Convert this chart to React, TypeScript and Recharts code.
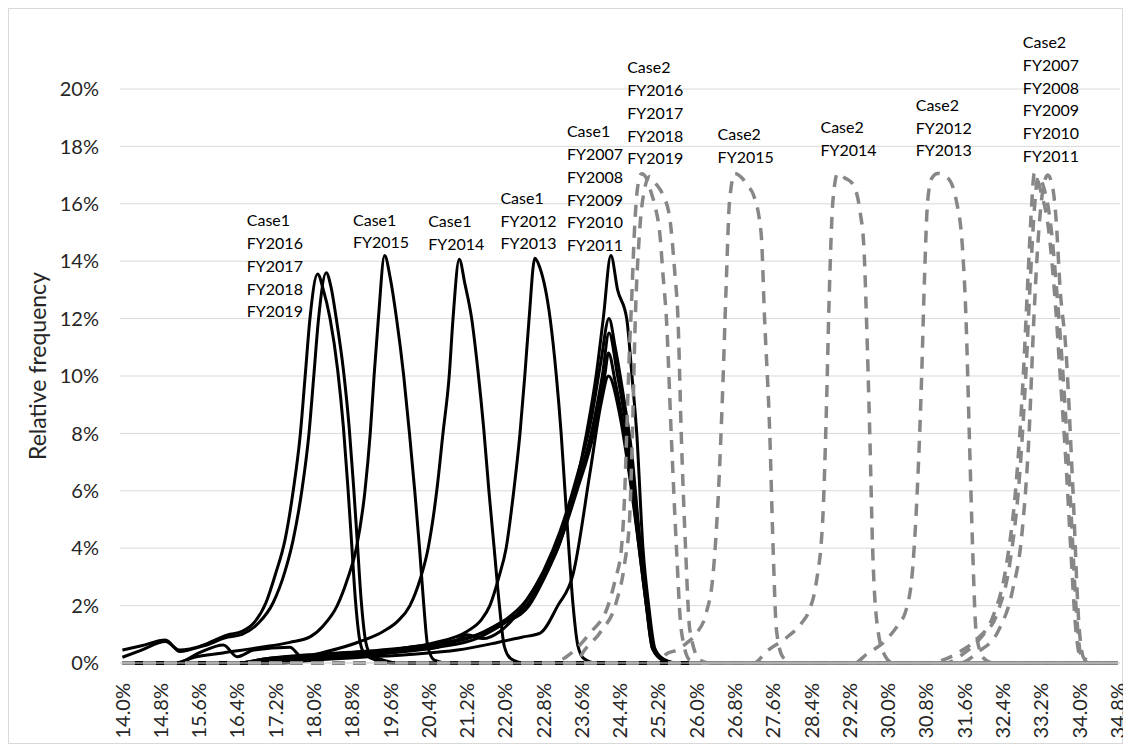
import React from "react";
import { LineChart, Line, XAxis, YAxis, CartesianGrid, ReferenceDot } from "recharts";

type Pt = [number, number];

const xTicks = [
  14.0, 14.8, 15.6, 16.4, 17.2, 18.0, 18.8, 19.6, 20.4, 21.2, 22.0, 22.8, 23.6, 24.4,
  25.2, 26.0, 26.8, 27.6, 28.4, 29.2, 30.0, 30.8, 31.6, 32.4, 33.2, 34.0, 34.8,
];
const yTicks = [0, 2, 4, 6, 8, 10, 12, 14, 16, 18, 20];

// Case1 (black solid), x = rate %, y = relative frequency %
const c1FY2016: Pt[] = [
  [14.0, 0.45], [14.4, 0.6], [14.9, 0.8], [15.2, 0.4], [15.7, 0.63], [16.2, 0.98],
  [16.5, 1.1], [16.75, 1.4], [17.0, 2.1], [17.2, 3.1], [17.4, 4.3], [17.57, 6.0],
  [17.72, 8.0], [17.82, 10.0], [17.92, 12.0], [18.08, 13.55], [18.2, 13.0], [18.34, 12.0],
  [18.5, 10.2], [18.62, 8.2], [18.71, 6.2], [18.79, 4.2], [18.87, 2.2], [18.95, 0.9],
  [19.05, 0.35], [19.3, 0.1], [19.6, 0], [26.0, 0],
];
const c1FY2018: Pt[] = [
  [14.0, 0.2], [14.4, 0.45], [14.9, 0.75], [15.2, 0.45], [15.7, 0.6], [16.2, 0.9],
  [16.5, 1.0], [16.85, 1.4], [17.15, 2.1], [17.4, 3.2], [17.57, 4.3], [17.75, 6.0],
  [17.9, 8.0], [18.0, 10.0], [18.1, 12.0], [18.26, 13.6], [18.36, 13.1], [18.47, 12.0],
  [18.62, 10.2], [18.74, 8.2], [18.83, 6.2], [18.91, 4.2], [18.99, 2.2], [19.07, 0.9],
  [19.17, 0.35], [19.45, 0.1], [19.8, 0], [26.0, 0],
];
const c1FY2015: Pt[] = [
  [14.0, 0], [15.1, 0], [15.5, 0.2], [16.1, 0.35], [16.9, 0.55], [17.5, 0.72],
  [17.93, 0.92], [18.2, 1.3], [18.49, 2.0], [18.7, 2.9], [18.89, 4.0], [19.07, 6.0],
  [19.18, 8.0], [19.26, 10.0], [19.35, 12.0], [19.48, 14.2], [19.6, 13.4], [19.73, 12.0],
  [19.88, 10.0], [20.0, 8.0], [20.11, 6.0], [20.21, 4.0], [20.3, 2.0], [20.38, 0.6],
  [20.52, 0.1], [20.8, 0], [26.0, 0],
];
const c1FY2014: Pt[] = [
  [14.0, 0], [15.15, 0], [15.6, 0.35], [16.11, 0.63], [16.4, 0.22], [16.74, 0.45],
  [17.5, 0.55], [17.75, 0.22], [18.27, 0.4], [18.97, 0.75], [19.45, 1.1], [19.75, 1.45],
  [20.01, 2.0], [20.22, 2.9], [20.39, 4.0], [20.57, 6.0], [20.7, 8.0], [20.83, 10.0],
  [20.91, 12.0], [21.04, 14.07], [21.16, 13.2], [21.3, 12.0], [21.43, 10.2], [21.55, 8.2],
  [21.66, 6.0], [21.77, 4.0], [21.88, 2.0], [21.98, 0.6], [22.12, 0.15], [22.4, 0], [26.0, 0],
];
const c1FY2012: Pt[] = [
  [14.0, 0], [16.4, 0], [17.0, 0.15], [18.0, 0.25], [19.0, 0.35], [19.8, 0.5],
  [20.5, 0.7], [21.2, 1.1], [21.5, 1.5], [21.68, 2.0], [21.87, 3.0], [22.02, 4.0],
  [22.18, 6.0], [22.31, 8.0], [22.41, 10.0], [22.5, 12.0], [22.62, 14.1], [22.72, 13.8],
  [22.94, 12.0], [23.07, 10.0], [23.17, 8.0], [23.25, 6.0], [23.33, 4.0], [23.42, 2.0],
  [23.52, 0.6], [23.65, 0.15], [23.9, 0], [26.0, 0],
];
const c1FY2007: Pt[] = [
  [14.0, 0], [16.4, 0], [17.0, 0.15], [18.0, 0.3], [19.0, 0.4], [20.0, 0.55],
  [21.0, 0.8], [21.6, 1.1], [22.0, 1.5], [22.4, 2.1], [22.75, 3.0], [23.1, 4.0],
  [23.45, 6.0], [23.7, 8.0], [23.9, 10.0], [24.05, 12.0], [24.21, 14.2], [24.35, 13.0],
  [24.54, 12.0], [24.65, 10.0], [24.75, 8.0], [24.88, 4.0], [25.0, 2.0], [25.13, 0.5],
  [25.3, 0.15], [25.6, 0], [26.0, 0],
];
const c1FY2008: Pt[] = [
  [14.0, 0], [16.6, 0], [17.2, 0.15], [18.2, 0.3], [19.2, 0.4], [20.43, 0.51],
  [20.99, 0.8], [21.2, 0.98], [21.54, 0.85], [21.89, 1.1], [22.38, 2.0], [22.8, 3.2],
  [23.15, 4.6], [23.5, 6.5], [23.8, 8.5], [24.0, 10.5], [24.17, 12.0], [24.3, 11.0],
  [24.5, 9.0], [24.64, 7.4], [24.83, 4.0], [25.0, 1.5], [25.1, 0.5], [25.3, 0.1],
  [25.6, 0], [26.0, 0],
];
const c1FY2009: Pt[] = [
  [14.0, 0], [16.8, 0], [17.5, 0.12], [18.5, 0.25], [19.5, 0.4], [20.5, 0.6],
  [21.3, 0.9], [21.9, 1.4], [22.45, 2.0], [22.75, 2.9], [23.05, 4.0], [23.45, 6.0],
  [23.8, 8.0], [24.03, 10.0], [24.17, 11.5], [24.35, 10.0], [24.55, 8.0], [24.7, 6.0],
  [24.83, 4.0], [24.97, 2.0], [25.1, 0.5], [25.3, 0.1], [25.6, 0], [26.0, 0],
];
const c1FY2010: Pt[] = [
  [14.0, 0], [17.0, 0], [17.6, 0.1], [18.6, 0.2], [19.6, 0.35], [20.6, 0.55],
  [21.4, 0.85], [22.0, 1.4], [22.5, 2.0], [22.8, 2.9], [23.1, 4.0], [23.5, 6.0],
  [23.85, 8.0], [24.08, 10.0], [24.16, 10.8], [24.3, 9.8], [24.5, 8.0], [24.66, 6.0],
  [24.8, 4.0], [24.95, 2.0], [25.08, 0.5], [25.3, 0.1], [25.6, 0], [26.0, 0],
];
const c1FY2011: Pt[] = [
  [14.0, 0], [17.3, 0], [18.0, 0.1], [19.0, 0.2], [20.0, 0.3], [21.0, 0.45],
  [21.8, 0.7], [22.35, 0.9], [22.73, 1.04], [23.1, 2.0], [23.42, 3.1], [23.77, 6.6],
  [24.0, 9.0], [24.16, 10.0], [24.4, 8.6], [24.6, 6.5], [24.8, 4.0], [24.95, 2.0],
  [25.08, 0.5], [25.3, 0.1], [25.6, 0], [26.0, 0],
];

// Case2 (grey dashed)
const c2FY2016: Pt[] = [
  [14.0, 0], [23.0, 0], [23.28, 0.22], [23.77, 1.04], [24.15, 2.0], [24.3, 2.9],
  [24.43, 4.0], [24.5, 6.0], [24.54, 8.0], [24.6, 11.0], [24.64, 12.5], [24.7, 15.0],
  [24.77, 16.6], [24.85, 17.05], [24.95, 16.9], [25.05, 16.4], [25.15, 15.8], [25.23, 15.0],
  [25.3, 13.5], [25.37, 12.0], [25.47, 8.0], [25.58, 4.0], [25.68, 1.15], [25.86, 0.1],
  [26.1, 0], [34.8, 0],
];
const c2FY2018: Pt[] = [
  [14.0, 0], [23.5, 0], [23.6, 0.3], [24.0, 1.1], [24.3, 2.0], [24.5, 3.5],
  [24.6, 5.0], [24.66, 8.0], [24.72, 12.0], [24.8, 14.8], [24.9, 16.4], [25.02, 16.95],
  [25.15, 16.7], [25.3, 16.3], [25.44, 15.5], [25.55, 13.5], [25.61, 12.07], [25.68, 8.0],
  [25.77, 4.0], [25.86, 1.15], [26.07, 0.1], [26.3, 0], [34.8, 0],
];
const c2FY2015: Pt[] = [
  [14.0, 0], [25.2, 0], [25.36, 0.3], [25.58, 0.45], [25.8, 0.7], [26.0, 1.04],
  [26.2, 1.73], [26.34, 3.0], [26.45, 5.7], [26.55, 9.7], [26.62, 13.2], [26.69, 16.1],
  [26.8, 17.06], [26.95, 16.9], [27.08, 16.6], [27.18, 16.35], [27.35, 14.96], [27.42, 12.07],
  [27.53, 8.0], [27.6, 4.0], [27.67, 1.15], [27.8, 0.22], [28.0, 0], [34.8, 0],
];
const c2FY2014: Pt[] = [
  [14.0, 0], [27.2, 0], [27.46, 0.4], [27.87, 0.87], [28.2, 1.4], [28.36, 1.85],
  [28.5, 2.78], [28.64, 5.1], [28.71, 8.6], [28.78, 13.2], [28.85, 16.1], [28.95, 17.06],
  [29.1, 16.9], [29.26, 16.7], [29.42, 15.7], [29.5, 14.4], [29.55, 12.07], [29.62, 8.0],
  [29.68, 4.0], [29.79, 1.15], [29.93, 0.28], [30.1, 0], [34.8, 0],
];
const c2FY2012: Pt[] = [
  [14.0, 0], [29.3, 0], [29.55, 0.3], [29.96, 0.8], [30.2, 1.3], [30.38, 1.85],
  [30.52, 3.36], [30.62, 6.26], [30.7, 9.74], [30.76, 13.2], [30.83, 16.1], [30.92, 16.9],
  [31.04, 17.06], [31.25, 16.9], [31.43, 16.1], [31.56, 14.4], [31.63, 12.07], [31.7, 8.0],
  [31.77, 4.0], [31.84, 1.15], [31.98, 0.2], [32.2, 0], [34.8, 0],
];
const c2FY2007: Pt[] = [
  [14.0, 0], [30.9, 0], [31.14, 0.1], [31.56, 0.45], [31.84, 0.8], [32.19, 1.6],
  [32.47, 3.36], [32.68, 6.26], [32.82, 9.74], [32.92, 13.2], [32.99, 15.55], [33.06, 17.06],
  [33.2, 16.4], [33.35, 15.2], [33.5, 12.5], [33.6, 10.0], [33.72, 7.0], [33.82, 4.0],
  [33.92, 1.3], [34.02, 0.2], [34.2, 0], [34.8, 0],
];
const c2FY2009: Pt[] = [
  [14.0, 0], [31.2, 0], [31.6, 0.35], [31.95, 0.9], [32.3, 1.8], [32.55, 3.5],
  [32.75, 6.5], [32.88, 10.0], [32.98, 13.5], [33.06, 15.8], [33.14, 16.95], [33.25, 16.6],
  [33.4, 15.3], [33.55, 12.5], [33.7, 9.0], [33.82, 5.5], [33.93, 2.0], [34.03, 0.3],
  [34.2, 0], [34.8, 0],
];
const c2FY2011: Pt[] = [
  [14.0, 0], [31.5, 0], [31.9, 0.4], [32.3, 1.1], [32.6, 2.5], [32.8, 4.5],
  [32.95, 8.0], [33.05, 12.0], [33.15, 15.0], [33.25, 16.6], [33.34, 17.0], [33.45, 16.5],
  [33.51, 15.55], [33.6, 13.0], [33.72, 10.9], [33.86, 6.26], [34.0, 1.15], [34.1, 0.16],
  [34.27, 0.05], [34.4, 0], [34.8, 0],
];

const case1 = [
  { name: "Case1 FY2016", pts: c1FY2016 },
  { name: "Case1 FY2018", pts: c1FY2018 },
  { name: "Case1 FY2015", pts: c1FY2015 },
  { name: "Case1 FY2014", pts: c1FY2014 },
  { name: "Case1 FY2012", pts: c1FY2012 },
  { name: "Case1 FY2007", pts: c1FY2007 },
  { name: "Case1 FY2008", pts: c1FY2008 },
  { name: "Case1 FY2009", pts: c1FY2009 },
  { name: "Case1 FY2010", pts: c1FY2010 },
  { name: "Case1 FY2011", pts: c1FY2011 },
];
const case2 = [
  { name: "Case2 FY2016", pts: c2FY2016 },
  { name: "Case2 FY2018", pts: c2FY2018 },
  { name: "Case2 FY2015", pts: c2FY2015 },
  { name: "Case2 FY2014", pts: c2FY2014 },
  { name: "Case2 FY2012", pts: c2FY2012 },
  { name: "Case2 FY2007", pts: c2FY2007 },
  { name: "Case2 FY2009", pts: c2FY2009 },
  { name: "Case2 FY2011", pts: c2FY2011 },
];

// annotation blocks, anchored (top line) in data coordinates
const notes = [
  { x: 16.6, y: 15.41, lines: ["Case1", "FY2016", "FY2017", "FY2018", "FY2019"] },
  { x: 18.82, y: 15.44, lines: ["Case1", "FY2015"] },
  { x: 20.39, y: 15.39, lines: ["Case1", "FY2014"] },
  { x: 21.9, y: 16.19, lines: ["Case1", "FY2012", "FY2013"] },
  { x: 23.29, y: 18.51, lines: ["Case1", "FY2007", "FY2008", "FY2009", "FY2010", "FY2011"] },
  { x: 24.55, y: 20.74, lines: ["Case2", "FY2016", "FY2017", "FY2018", "FY2019"] },
  { x: 26.44, y: 18.41, lines: ["Case2", "FY2015"] },
  { x: 28.59, y: 18.65, lines: ["Case2", "FY2014"] },
  { x: 30.58, y: 19.43, lines: ["Case2", "FY2012", "FY2013"] },
  { x: 32.82, y: 21.62, lines: ["Case2", "FY2007", "FY2008", "FY2009", "FY2010", "FY2011"] },
];

const FONT = "Lato, 'Noto Sans', sans-serif";
const toRows = (pts: Pt[]) => pts.map(([x, y]) => ({ x, y }));

function Note(props: any) {
  const vb = props.viewBox || {};
  const x = (vb.x ?? 0) + (vb.width ?? 0) / 2;
  const y = (vb.y ?? 0) + (vb.height ?? 0) / 2;
  return (
    <text fontFamily={FONT} fontSize={16} fill="#000">
      {props.lines.map((l: string, i: number) => (
        <tspan key={i} x={x} y={y + i * 22.7 + 5.7}>
          {l}
        </tspan>
      ))}
    </text>
  );
}

function XTick({ x, y, payload }: any) {
  return (
    <text
      x={x}
      y={y}
      transform={`rotate(-90 ${x} ${y})`}
      textAnchor="end"
      dy="0.36em"
      fontFamily={FONT}
      fontSize={20}
      fill="#262626"
    >
      {Number(payload.value).toFixed(1)}%
    </text>
  );
}

function YTitle({ viewBox }: any) {
  const cx = viewBox.x + 29;
  const cy = viewBox.y + viewBox.height / 2 - 10;
  return (
    <text
      x={cx}
      y={cy}
      transform={`rotate(-90 ${cx} ${cy})`}
      textAnchor="middle"
      dy="0.36em"
      fontFamily={FONT}
      fontSize={23}
      fill="#262626"
    >
      Relative frequency
    </text>
  );
}

export default function App() {
  return (
    <div style={{ border: "1px solid #d9d9d9", width: 1113, height: 734, background: "#fff" }}>
      <LineChart
        width={1122}
        height={734}
        margin={{ top: 80, right: 11, bottom: 0, left: 0 }}
        style={{ overflow: "visible" }}
      >
        <CartesianGrid vertical={false} stroke="#d9d9d9" />
        <XAxis
          type="number"
          dataKey="x"
          domain={[13.95, 34.85]}
          ticks={xTicks}
          interval={0}
          allowDataOverflow
          height={80}
          tickLine={false}
          tickSize={0}
          tickMargin={20}
          axisLine={{ stroke: "#d9d9d9" }}
          tick={<XTick />}
        />
        <YAxis
          type="number"
          domain={[0, 20]}
          ticks={yTicks}
          width={111}
          axisLine={false}
          tickLine={false}
          tickSize={0}
          tickMargin={21}
          tickFormatter={(v: number) => `${v}%`}
          tick={{ fontFamily: FONT, fontSize: 20, fill: "#262626" }}
          label={<YTitle />}
        />
        {case1.map((s) => (
          <Line
            key={s.name}
            name={s.name}
            data={toRows(s.pts)}
            dataKey="y"
            type="monotone"
            stroke="#000"
            strokeWidth={3}
            dot={false}
            activeDot={false}
            isAnimationActive={false}
          />
        ))}
        {case2.map((s) => (
          <Line
            key={s.name}
            name={s.name}
            data={toRows(s.pts)}
            dataKey="y"
            type="monotone"
            stroke="#878787"
            strokeWidth={3.5}
            strokeDasharray="12 9"
            dot={false}
            activeDot={false}
            isAnimationActive={false}
          />
        ))}
        {notes.map((n, i) => (
          <ReferenceDot
            key={i}
            x={n.x}
            y={n.y}
            r={0}
            fill="none"
            stroke="none"
            ifOverflow="visible"
            label={<Note lines={n.lines} />}
          />
        ))}
      </LineChart>
    </div>
  );
}
